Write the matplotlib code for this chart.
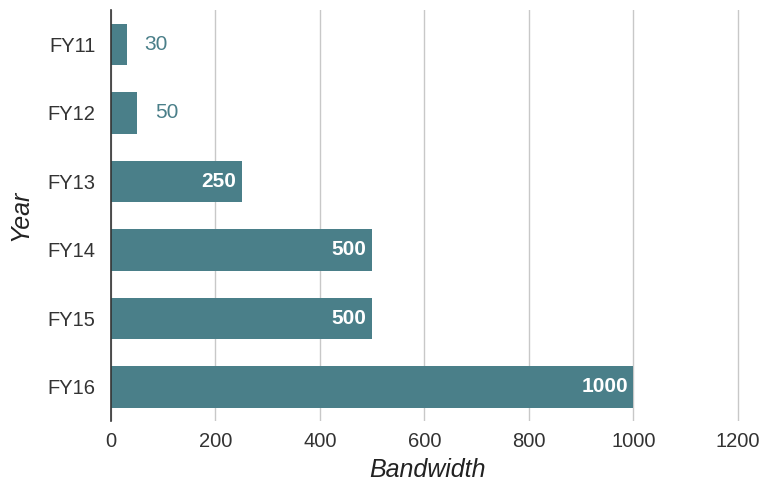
import matplotlib.pyplot as plt
import numpy as np

years = ['FY11', 'FY12', 'FY13', 'FY14', 'FY15', 'FY16']
bandwidth = [30, 50, 250, 500, 500, 1000]

bar_color = '#4a7f89'

plt.rcParams['font.family'] = ['Liberation Sans', 'DejaVu Sans']

fig = plt.figure(figsize=(7.62, 4.83), dpi=100)
ax = fig.add_axes([0.1457, 0.128, 0.8294, 0.851])

y = np.arange(len(years))
ax.barh(y, bandwidth, height=0.61, color=bar_color, zorder=3)

for i, v in enumerate(bandwidth):
    if v < 150:
        ax.annotate(str(v), (v, i), xytext=(13, 0), textcoords='offset points',
                    ha='left', va='center', fontsize=15, color=bar_color)
    else:
        ax.annotate(str(v), (v, i), xytext=(-4, 0), textcoords='offset points',
                    ha='right', va='center', fontsize=15, color='white',
                    fontweight='bold')

ax.set_xlim(0, 1210)
ax.set_ylim(len(years) - 0.5, -0.5)
ax.set_yticks(y)
ax.set_yticklabels(years)
ax.set_xticks(range(0, 1201, 200))

ax.grid(axis='x', color='#c8c8c8', linewidth=1, zorder=0)
for s in ['top', 'right', 'bottom']:
    ax.spines[s].set_visible(False)
ax.spines['left'].set_color('#333333')
ax.spines['left'].set_linewidth(1.2)
ax.spines['left'].set_zorder(4)

ax.tick_params(axis='both', length=0, labelsize=14.5, colors='#333333', pad=8)
ax.tick_params(axis='y', pad=11)

ax.set_xlabel('Bandwidth', fontsize=18, style='italic', color='#222222', labelpad=5)
ax.set_ylabel('Year', fontsize=18, style='italic', color='#222222', labelpad=11)

fig.savefig('out.png', dpi=100)
